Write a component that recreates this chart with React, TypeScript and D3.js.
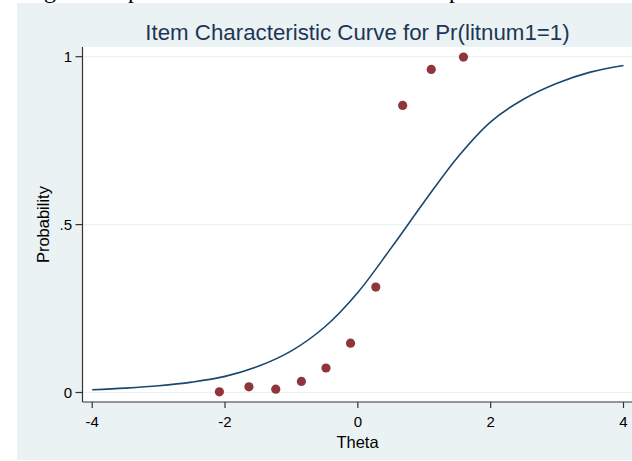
import * as d3 from "d3";

// observed item proportions (red dots)
const obsTheta = [-2.085, -1.64, -1.236, -0.85, -0.48, -0.11, 0.27, 0.675, 1.105, 1.59];
const obsProb = [0.002, 0.017, 0.01, 0.033, 0.073, 0.147, 0.314, 0.855, 0.962, 0.999];

// fitted ICC
const curveTheta = [-4, -3.5, -3, -2.5, -2, -1.5, -1, -0.5, 0, 0.5, 1, 1.5, 2, 2.5, 3, 3.5, 4];
const curveProb = [0.008, 0.013, 0.02, 0.031, 0.048, 0.078, 0.124, 0.195, 0.298, 0.43, 0.568, 0.7, 0.806, 0.874, 0.921, 0.954, 0.974];

const xTicks = [-4, -2, 0, 2, 4];
const yTicks = [0, 0.5, 1];
const yTickLabels = ["0", ".5", "1"];

const title = "Item Characteristic Curve for Pr(litnum1=1)";

const width = 632;
const height = 461;
const plotLeft = 82.5;
const plotTop = 47;
const plotBottom = 402;

const BG = "#eaf2f3";
const NAVY = "#1a476f";
const MAROON = "#90353b";
const FONT = "'Liberation Sans', Arial, Helvetica, sans-serif";

export default function App() {
  const x = d3.scaleLinear([-4, 4], [92.2, 623.5]);
  const y = d3.scaleLinear([0, 1], [392.5, 56.7]);

  const line = d3
    .line<number>((d, i) => x(curveTheta[i]), (d) => y(d))
    .curve(d3.curveCatmullRom.alpha(0.5));

  return (
    <svg
      width={width}
      height={height}
      style={{ position: "absolute", left: 0, top: 0, background: "#fff" }}
      fontFamily={FONT}
    >
      {/* bits of the page caption above, cut off by the crop */}
      <g fontFamily="'Liberation Serif', 'Times New Roman', serif" fontSize={24} fill="#000">
        <text x={44} y={-2.5}>g</text>
        <text x={128} y={-2.5}>p</text>
        <text x={449} y={-2.5}>p</text>
      </g>

      {/* graph region */}
      <rect x={17} y={3} width={width - 17} height={457} fill={BG} />

      {/* plot region */}
      <rect x={plotLeft} y={plotTop} width={width - plotLeft} height={plotBottom - plotTop} fill="#fff" />

      {/* grid */}
      <g stroke={BG} strokeWidth={1.2}>
        {yTicks.map((t) => (
          <line key={t} x1={plotLeft} x2={width} y1={y(t)} y2={y(t)} />
        ))}
      </g>

      {/* title */}
      <text x={357.5} y={39.5} textAnchor="middle" fontSize={22.3} fill="#1e3656">
        {title}
      </text>

      {/* fitted curve */}
      <path d={line(curveProb) ?? ""} fill="none" stroke={NAVY} strokeWidth={1.6} />

      {/* observed points */}
      <g fill={MAROON}>
        {obsProb.map((p, i) => (
          <circle key={i} cx={x(obsTheta[i])} cy={y(p)} r={4.6} />
        ))}
      </g>

      {/* axes */}
      <g stroke="#333" strokeWidth={1.2} fill="none">
        <line x1={plotLeft} x2={plotLeft} y1={plotTop} y2={plotBottom} />
        <line x1={plotLeft} x2={width} y1={plotBottom} y2={plotBottom} />
        {yTicks.map((t) => (
          <line key={t} x1={plotLeft - 7} x2={plotLeft} y1={y(t)} y2={y(t)} />
        ))}
        {xTicks.map((t) => (
          <line key={t} x1={x(t)} x2={x(t)} y1={plotBottom} y2={plotBottom + 6} />
        ))}
      </g>

      <g fontSize={15} fill="#000">
        {yTicks.map((t, i) => (
          <text key={t} x={72} y={y(t) + 5.3} textAnchor="end">
            {yTickLabels[i]}
          </text>
        ))}
        {xTicks.map((t) => (
          <text key={t} x={x(t)} y={427} textAnchor="middle">
            {t}
          </text>
        ))}
      </g>

      {/* axis titles */}
      <text x={357.5} y={447.5} textAnchor="middle" fontSize={16.5} fill="#000">
        Theta
      </text>
      <text
        transform={`translate(49,${y(0.5)}) rotate(-90)`}
        textAnchor="middle"
        fontSize={16.5}
        fill="#000"
      >
        Probability
      </text>
    </svg>
  );
}
